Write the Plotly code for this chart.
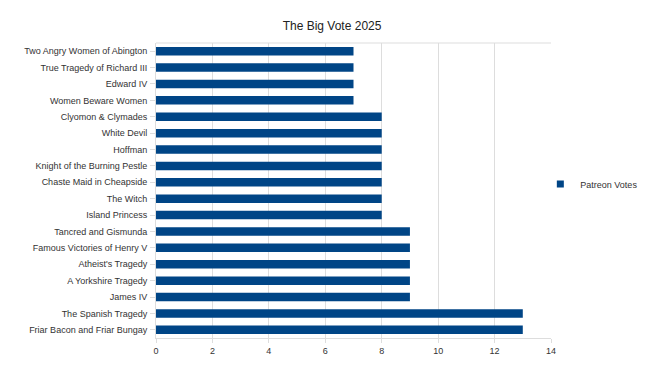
import plotly.graph_objects as go

plays = [
    "Two Angry Women of Abington",
    "True Tragedy of Richard III",
    "Edward IV",
    "Women Beware Women",
    "Clyomon & Clymades",
    "White Devil",
    "Hoffman",
    "Knight of the Burning Pestle",
    "Chaste Maid in Cheapside",
    "The Witch",
    "Island Princess",
    "Tancred and Gismunda",
    "Famous Victories of Henry V",
    "Atheist's Tragedy",
    "A Yorkshire Tragedy",
    "James IV",
    "The Spanish Tragedy",
    "Friar Bacon and Friar Bungay",
]
votes = [7, 7, 7, 7, 8, 8, 8, 8, 8, 8, 8, 9, 9, 9, 9, 9, 13, 13]
x_ticks = [0, 2, 4, 6, 8, 10, 12, 14]
series_name = "Patreon Votes"
bar_color = "#004586"

fig = go.Figure()
fig.add_trace(go.Bar(
    y=plays, x=votes, orientation="h", name=series_name,
    marker=dict(color=bar_color, line=dict(width=0)),
    showlegend=False,
))
# legend entry with a small square symbol like the reference
fig.add_trace(go.Scatter(
    x=[None], y=[None], mode="markers", name=series_name,
    marker=dict(symbol="square", size=7, color=bar_color),
    showlegend=True, hoverinfo="skip",
))

grid = "#dddddd"
fig.update_layout(
    width=652, height=368,
    margin=dict(l=148, r=109, t=35, b=38, autoexpand=False),
    paper_bgcolor="white", plot_bgcolor="white",
    font=dict(family="Liberation Sans, Arial, sans-serif", size=9, color="#333333"),
    title=dict(text="The Big Vote 2025", x=0.497, xanchor="center", y=0.951, yanchor="middle",
               font=dict(size=12, color="#222222")),
    bargap=0.48,
    showlegend=True,
    legend=dict(x=0.973, y=0.522, xanchor="left", yanchor="middle",
                font=dict(size=9, color="#333333"), itemwidth=30,
                bgcolor="rgba(0,0,0,0)"),
    xaxis=dict(range=[0, 14], tickvals=x_ticks, showgrid=True, gridcolor=grid, gridwidth=1,
               zeroline=False, showline=True, linecolor=grid, ticks="outside",
               ticklen=4, tickcolor=grid, tickfont=dict(size=9)),
    yaxis=dict(autorange="reversed", showgrid=False, showline=True, linecolor=grid,
               ticks="outside", ticklen=5, tickcolor=grid, tickfont=dict(size=9),
               ticklabelstandoff=1),
)
fig.add_shape(type="line", xref="paper", yref="paper", x0=0, x1=1, y0=1, y1=1,
              line=dict(color=grid, width=1))

fig.write_html("out.html")
